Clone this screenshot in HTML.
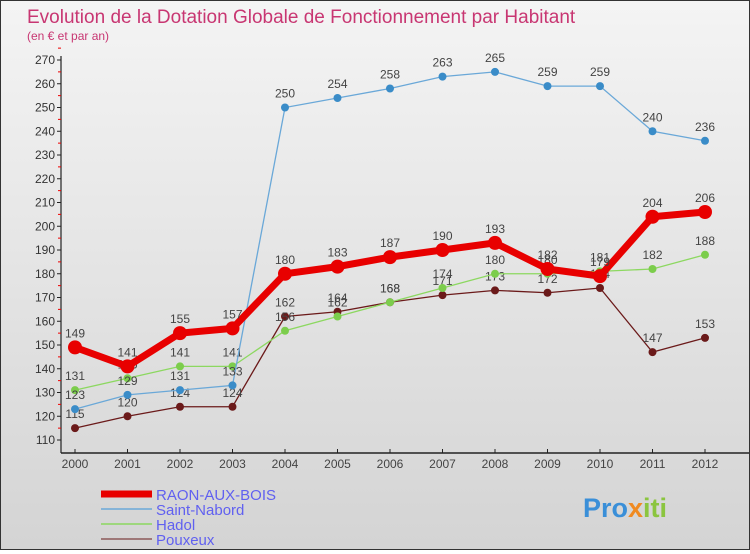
<!DOCTYPE html>
<html><head><meta charset="utf-8"><style>
html,body{margin:0;padding:0}
body{width:750px;height:550px;overflow:hidden;font-family:"Liberation Sans",sans-serif}
#wrap{position:relative;width:748px;height:548px;border:1px solid #333;background:linear-gradient(#f4f4f4,#d4d4d4)}
</style></head><body>
<div id="wrap">
<svg id="chart" width="748" height="548">
<text x="26" y="22" font-size="19" fill="#c83672">Evolution de la Dotation Globale de Fonctionnement par Habitant</text>
<text x="26" y="39" font-size="12" fill="#c83672">(en € et par an)</text>
<g id="axes"></g><g id="series"></g><g id="legend"></g>
<text x="582" y="516" font-size="27" font-weight="bold" fill="#3a8fd8">Pro<tspan fill="#f08a20">x</tspan><tspan fill="#8bc53f">iti</tspan></text>
</svg>
</div>
<script>
const years=["2000","2001","2002","2003","2004","2005","2006","2007","2008","2009","2010","2011","2012"];
const yTicks=[110,120,130,140,150,160,170,180,190,200,210,220,230,240,250,260,270];
const seriesNames=["RAON-AUX-BOIS","Saint-Nabord","Hadol","Pouxeux"];
const raon=[149,141,155,157,180,183,187,190,193,182,179,204,206];
const saintNabord=[123,129,131,133,250,254,258,263,265,259,259,240,236];
const hadol=[131,136,141,141,156,162,168,174,180,180,181,182,188];
const pouxeux=[115,120,124,124,162,164,168,171,173,172,174,147,153];
const NS="http://www.w3.org/2000/svg";
function X(i){return 74+i*52.5;}
function Y(v){return 439-(v-110)*2.375;}
function mk(t,a,p){const e=document.createElementNS(NS,t);for(const k in a)e.setAttribute(k,a[k]);p.appendChild(e);return e;}
const ax=document.getElementById('axes');
let l=mk('line',{x1:60,y1:55,x2:60,y2:452,stroke:'#222','stroke-width':1.2},ax);

l=mk('line',{x1:60,y1:452,x2:748,y2:452,stroke:'#222','stroke-width':1.5},ax);

yTicks.forEach(v=>{
 mk('line',{x1:56,y1:Y(v),x2:60,y2:Y(v),stroke:'#222'},ax);
 mk('line',{x1:57,y1:Y(v+5),x2:60,y2:Y(v+5),stroke:'#e00'},ax);
 const t=mk('text',{x:54,y:Y(v)+4,'font-size':12,fill:'#333','text-anchor':'end'},ax);t.textContent=v;
 
});
years.forEach((y,i)=>{
 mk('line',{x1:X(i),y1:448,x2:X(i),y2:452,stroke:'#222'},ax);
 const t=mk('text',{x:X(i),y:467,'font-size':12,fill:'#444','text-anchor':'middle'},ax);t.textContent=y;
 
});
const sg=document.getElementById('series');
const defs=[[pouxeux,'#6b1a1a','#6b1a1a',1.3,4],[hadol,'#8cd860','#7ccd4c',1.3,4],[saintNabord,'#6aa8d8','#3a8cc8',1.3,4],[raon,'#e80000','#e80000',7,7]];
const keys=['pouxeux','hadol','saint-nabord','raon-aux-bois'];
defs.forEach((d,si)=>{
 const g=mk('g',{},sg);
 
 
 const pts=d[0].map((v,i)=>X(i)+','+Y(v)).join(' ');
 mk('polyline',{points:pts,fill:'none',stroke:d[1],'stroke-width':d[3]},g);
 d[0].forEach((v,i)=>{
  const c=mk('circle',{cx:X(i),cy:Y(v),r:d[4],fill:d[2]},g);
  
  
  const t=mk('text',{x:X(i),y:Y(v)-10,'font-size':12,fill:'#444','text-anchor':'middle'},g);t.textContent=v;
 });
});
const lg=document.getElementById('legend');
const lc=['#e80000','#6aa8d8','#8cd860','#8b5a5a'],lw=[7,1.5,1.5,1.5];
seriesNames.forEach((n,i)=>{
 const y=493+i*15;
 const g=mk('g',{},lg);
 
 
 mk('line',{x1:100,y1:y,x2:151,y2:y,stroke:lc[i],'stroke-width':lw[i]},g);
 const t=mk('text',{x:155,y:y+6,'font-size':15,fill:'#6060f0'},g);t.textContent=n;
});
</script>
</body></html>
